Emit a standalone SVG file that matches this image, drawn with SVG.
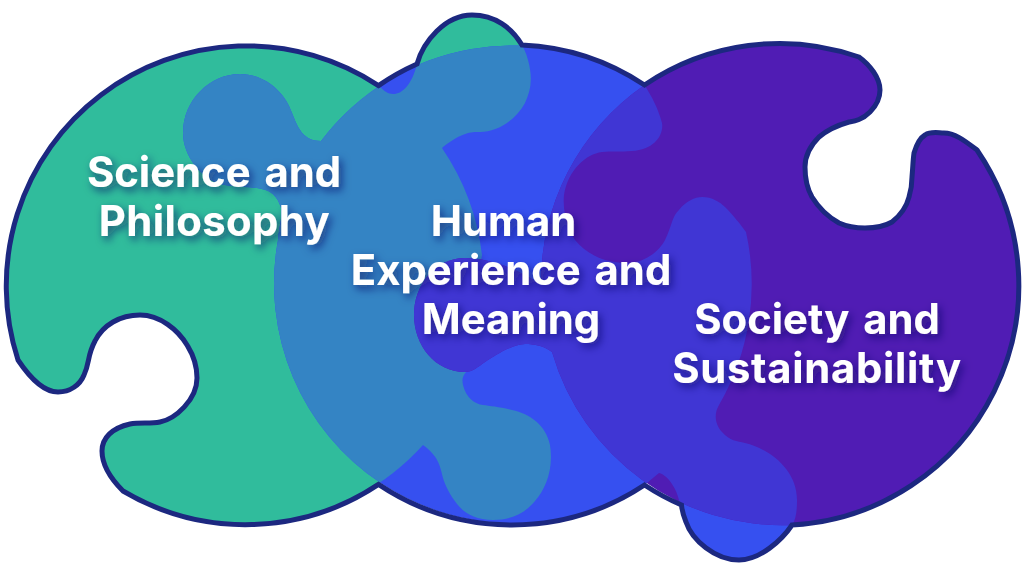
<svg xmlns="http://www.w3.org/2000/svg" xmlns:xlink="http://www.w3.org/1999/xlink" width="1024" height="576" viewBox="0 0 1024 576">
<style>
.lbl{font-family:"Inter","Liberation Sans",sans-serif;font-weight:700;font-size:41.8px;word-spacing:4px;fill:#fff;text-anchor:middle;filter:url(#ts)}
</style>
<defs>
<filter id="ts" x="-20%" y="-40%" width="140%" height="200%"><feDropShadow dx="3" dy="4" stdDeviation="4.5" flood-color="#0f1460" flood-opacity="0.65"/></filter>
<path id="g" d="M18 360A240 240 0 0 1 378.5 85.6C385 92 388 94 393 94C403 94 412 84 417 64C423 42 445 15 472 15C495 15 520 30 528 60C533 78 531 90 525 103C516 120 497 132 480 132C470 132 463 132 443 147L442 148A240 240 0 0 1 482 255L470 320L467 371C462 376 462 380 463 385C466 398 475 404 483 405C490 406 500 407 512 410C530 414 546 425 550 445C554 470 545 490 535 501C525 513 512 520 493 520C475 520 464 513 457 504C450 495 445 485 443 478C440 465 438 456 423 445A240 240 0 0 1 123 491C112 480 102 465 102 451C102 438 112 428 130 424C140 422 150 424 160 422C175 419 197 400 197 378C197 360 190 350 187 345C178 330 160 315 140 315C120 315 103 325 95 341C87 356 90 362 84 375C80 385 70 392 58 392C44 392 30 378 18 360Z"/>
<path id="b" d="M321 141A240 240 0 0 1 644.5 85C652 97 658 108 662 123C664 135 654 150 632 151C620 152 612 151 602 152C586 154 568 170 564 195C562 215 570 232 575 240C585 252 600 262 625 263C645 264 660 250 665 240C672 226 672 216 679 210C686 201 695 197 702 197C712 197 720 202 725 207C733 215 741 225 746 232A240 240 0 0 1 719 405C713 415 716 426 722 432C730 441 737 441 745 443C770 449 797 470 797 500C797 512 796 518 792 526C782 540 760 560 739 560C715 560 692 540 686 522C682 512 682 505 680 505C678 490 668 475 659 473L644.5 485A240 240 0 0 1 278 240C279 225 284 213 280 205C275 192 268 190 257 188C240 186 230 187 217 183C200 176 183 155 183 133C183 100 210 74 240 74C265 74 285 92 292 113C298 128 303 141 321 141Z"/>
<path id="p" d="M644.5 85A240 240 0 0 1 859 57C870 65 880 78 880 90C880 102 872 110 870 112C862 120 855 121 849 122C835 126 826 131 819 137C810 146 805 155 805 167C805 180 808 190 812 197C820 210 830 218 839 223C848 227 857 228 865 228C875 228 885 226 892 222C902 214 907 205 909 197C912 187 912 182 912 177C913 165 913 160 914 153C917 143 920 138 925 135C931 131 938 133 944 133C955 133 965 141 977 150A240 240 0 0 1 792 525A240 240 0 0 1 552 352C544 346 535 344 525 344C510 345 495 356 485 362C478 367 472 372 465 372C435 372 414 345 414 315C414 285 435 258 465 258C490 258 520 270 541 285A240 240 0 0 1 644.5 85Z"/>
<clipPath id="cg"><use xlink:href="#g"/></clipPath>
<clipPath id="cb"><use xlink:href="#b"/></clipPath>
</defs>
<g id="pieces">
<use id="piece-green" xlink:href="#g" fill="#30bc9c"/>
<use id="piece-blue" xlink:href="#b" fill="#3650f0"/>
<use id="overlap-green-blue" xlink:href="#b" fill="#3484c4" clip-path="url(#cg)"/>
<use id="piece-purple" xlink:href="#p" fill="#501cb4"/>
<use id="overlap-blue-purple" xlink:href="#p" fill="#4036d4" clip-path="url(#cb)"/>
</g>
<g id="outline">
<path fill="none" stroke="#1c2880" stroke-width="5" stroke-linejoin="miter" d="M378.5 85.6A240 240 0 0 1 417 64C423 42 445 15 472 15C495 15 512 28 522 45A240 240 0 0 1 644.5 85A240 240 0 0 1 859 57C870 65 880 78 880 90C880 102 872 110 870 112C862 120 855 121 849 122C835 126 826 131 819 137C810 146 805 155 805 167C805 180 808 190 812 197C820 210 830 218 839 223C848 227 857 228 865 228C875 228 885 226 892 222C902 214 907 205 909 197C912 187 912 182 912 177C913 165 913 160 914 153C917 143 920 138 925 135C931 131 938 133 944 133C955 133 965 141 977 150A240 240 0 0 1 792 525C782 540 760 560 739 560C715 560 692 540 686 522C682 512 682 510 681.5 505A240 240 0 0 1 644.5 485A240 240 0 0 1 378.5 484.4A240 240 0 0 1 123 491C112 480 102 465 102 451C102 438 112 428 130 424C140 422 150 424 160 422C175 419 197 400 197 378C197 360 190 350 187 345C178 330 160 315 140 315C120 315 103 325 95 341C87 356 90 362 84 375C80 385 70 392 58 392C44 392 30 378 18 360A240 240 0 0 1 378.5 85.6Z"/>
</g>
<g id="labels">
<text class="lbl" x="214" y="187">Science and</text>
<text class="lbl" x="214.5" y="236" letter-spacing="0.4">Philosophy</text>
<text class="lbl" x="503.5" y="236">Human</text>
<text class="lbl" x="511" y="285">Experience and</text>
<text class="lbl" x="511" y="334">Meaning</text>
<text class="lbl" x="817" y="334">Society and</text>
<text class="lbl" x="817" y="383" letter-spacing="0.7">Sustainability</text>
</g>
</svg>
